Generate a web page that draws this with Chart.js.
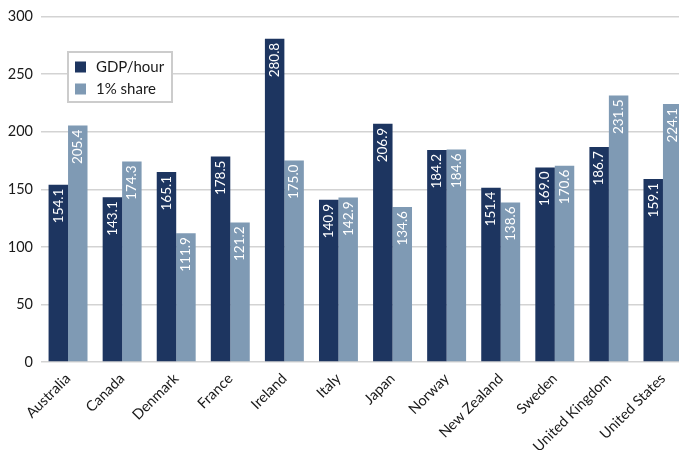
<!DOCTYPE html>
<html>
<head>
<meta charset="utf-8">
<script src="https://cdn.jsdelivr.net/npm/chart.js@4/dist/chart.umd.min.js"></script>
<style>
  html, body { margin: 0; padding: 0; background: #fff; overflow: hidden; }
  #wrap { width: 690px; height: 450px; }
</style>
</head>
<body>
<div id="wrap"><canvas id="chart"></canvas></div>
<script>
const countries = ['Australia', 'Canada', 'Denmark', 'France', 'Ireland', 'Italy', 'Japan',
    'Norway', 'New Zealand', 'Sweden', 'United Kingdom', 'United States'];
const gdpPerHour = [154.1, 143.1, 165.1, 178.5, 280.8, 140.9, 206.9, 184.2, 151.4, 169.0, 186.7, 159.1];
const topShare = [205.4, 174.3, 111.9, 121.2, 175.0, 142.9, 134.6, 184.6, 138.6, 170.6, 231.5, 224.1];

const DARK = '#1d3560';
const LIGHT = '#7f9ab4';
const FONT = 'Lato, "Open Sans", sans-serif';

// white rotated value labels inside the top of each bar
const barLabels = {
    id: 'barLabels',
    afterDatasetsDraw(chart) {
        const ctx = chart.ctx;
        ctx.save();
        ctx.fillStyle = '#ffffff';
        ctx.font = '13.5px ' + FONT;
        ctx.textAlign = 'right';
        ctx.textBaseline = 'middle';
        chart.data.datasets.forEach((ds, i) => {
            chart.getDatasetMeta(i).data.forEach((bar, j) => {
                ctx.save();
                ctx.translate(bar.x, bar.y + 4);
                ctx.rotate(-Math.PI / 2);
                ctx.fillText(ds.data[j].toFixed(1), 0, 0);
                ctx.restore();
            });
        });
        ctx.restore();
    }
};

// boxed legend sitting inside the plot area
const boxLegend = {
    id: 'boxLegend',
    afterDraw(chart) {
        const ctx = chart.ctx;
        ctx.save();
        ctx.fillStyle = '#ffffff';
        ctx.fillRect(68, 52, 104, 50);
        ctx.strokeStyle = '#cccccc';
        ctx.lineWidth = 2;
        ctx.strokeRect(68, 52, 104, 50);
        ctx.font = '15px ' + FONT;
        ctx.textBaseline = 'middle';
        chart.data.datasets.forEach((ds, i) => {
            const y = 67 + i * 22;
            ctx.fillStyle = ds.backgroundColor;
            ctx.fillRect(75, y - 5.5, 11, 11);
            ctx.fillStyle = '#1a1a1a';
            ctx.fillText(ds.label, 96, y);
        });
        ctx.restore();
    }
};

new Chart(document.getElementById('chart'), {
    type: 'bar',
    data: {
        labels: countries,
        datasets: [
            { label: 'GDP/hour', data: gdpPerHour, backgroundColor: DARK },
            { label: '1% share', data: topShare, backgroundColor: LIGHT }
        ]
    },
    options: {
        responsive: true,
        maintainAspectRatio: false,
        animation: false,
        categoryPercentage: 0.72,
        barPercentage: 1.0,
        layout: { padding: { left: 6, top: 12, right: 0, bottom: 0 } },
        scales: {
            x: {
                grid: { display: false },
                border: { display: false },
                afterFit(scale) { scale.height = 88; },
                ticks: {
                    color: '#1a1a1a',
                    font: { family: FONT, size: 14.5 },
                    minRotation: 45,
                    maxRotation: 45,
                    padding: 0
                }
            },
            y: {
                min: 0,
                max: 300,
                grid: { color: '#d3d3d3', lineWidth: 1.5, drawTicks: false },
                border: { display: false },
                afterFit(scale) { scale.width = 35; },
                ticks: {
                    stepSize: 50,
                    color: '#1a1a1a',
                    font: { family: FONT, size: 14.5 },
                    padding: 8
                }
            }
        },
        plugins: {
            legend: { display: false },
            tooltip: { enabled: false }
        }
    },
    plugins: [barLabels, boxLegend]
});
</script>
</body>
</html>
